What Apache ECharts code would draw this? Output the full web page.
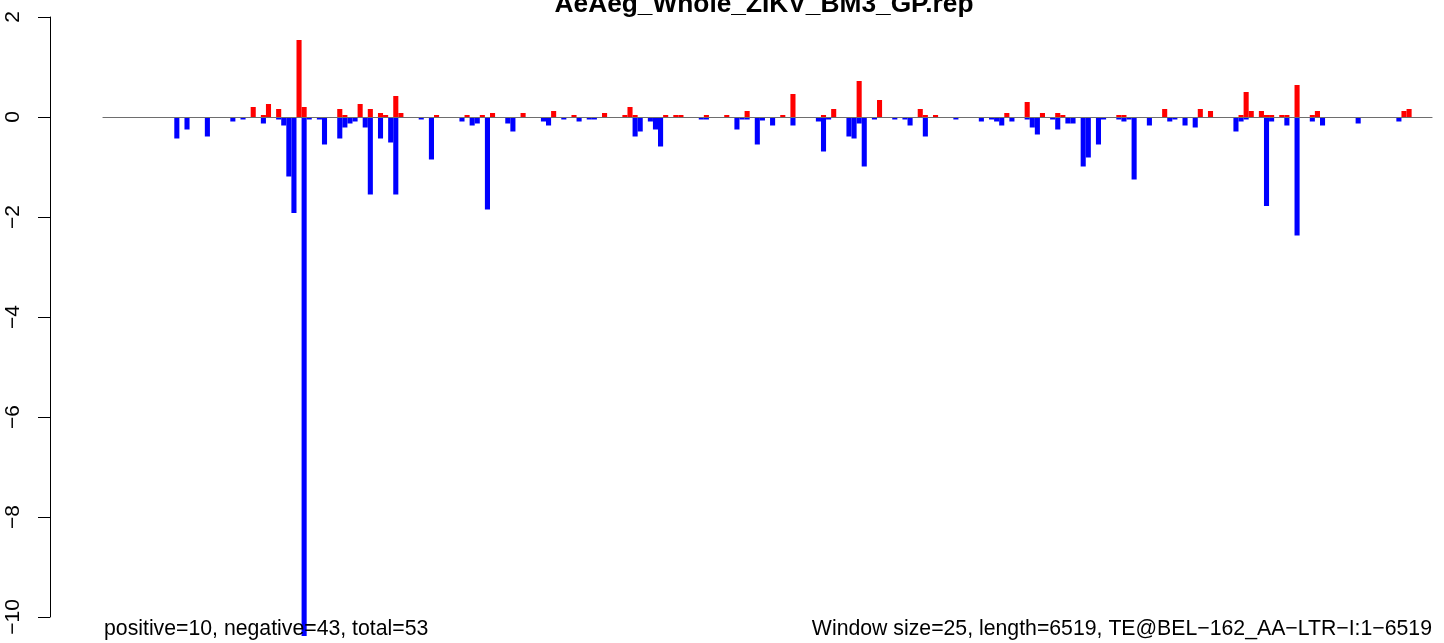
<!DOCTYPE html>
<html>
<head>
<meta charset="utf-8">
<script src="https://cdn.jsdelivr.net/npm/echarts@6/dist/echarts.min.js"></script>
<style>
html,body{margin:0;padding:0;background:#fff;}
#chart{width:1444px;height:643px;}
</style>
</head>
<body>
<div id="chart"></div>
<script>
// Window count: length 6519 / window size 25
const windowCount = 261;
const titleText = 'AeAeg_Whole_ZIKV_BM3_GP.rep';
const leftNote = 'positive=10, negative=43, total=53';
const rightNote = 'Window size=25, length=6519, TE@BEL\u2212162_AA\u2212LTR\u2212I:1\u22126519';
const yTicks = [-10, -8, -6, -4, -2, 0, 2];

// Positive (red) windows and values
const redWindows = [29,31,32,34,38,39,46,47,50,52,54,55,57,58,65,71,74,76,82,88,92,98,102,103,104,110,112,113,118,122,126,133,135,141,143,148,152,160,161,163,177,181,184,187,188,199,200,208,215,217,223,224,225,227,228,229,231,232,234,237,238,255,256];
const redValues  = [0.20,0.04,0.26,0.16,1.54,0.20,0.16,0.04,0.26,0.16,0.08,0.04,0.42,0.08,0.04,0.04,0.04,0.08,0.08,0.12,0.04,0.08,0.04,0.20,0.04,0.04,0.04,0.04,0.04,0.04,0.12,0.04,0.46,0.04,0.16,0.72,0.34,0.16,0.04,0.04,0.08,0.30,0.08,0.08,0.04,0.04,0.04,0.16,0.16,0.12,0.04,0.50,0.12,0.12,0.04,0.04,0.04,0.04,0.64,0.04,0.12,0.12,0.16];

// Negative (blue) windows and values
const blueWindows = [14,16,20,25,27,31,34,35,36,37,39,40,42,43,46,47,48,49,51,52,54,56,57,62,64,70,72,73,75,79,80,86,87,90,93,95,96,104,105,107,108,109,117,118,124,125,126,128,129,131,135,140,141,142,146,147,148,149,151,155,157,158,161,167,172,174,175,176,178,181,182,183,186,187,189,190,192,193,195,196,199,200,201,202,205,209,210,212,214,222,223,224,228,229,232,234,237,239,246,254];
const blueValues  = [-0.43,-0.25,-0.39,-0.09,-0.05,-0.13,-0.05,-0.17,-1.19,-1.92,-10.38,-0.05,-0.05,-0.55,-0.43,-0.21,-0.13,-0.09,-0.21,-1.55,-0.43,-0.51,-1.55,-0.05,-0.85,-0.09,-0.17,-0.13,-1.85,-0.13,-0.29,-0.09,-0.17,-0.05,-0.09,-0.05,-0.05,-0.39,-0.29,-0.09,-0.25,-0.59,-0.05,-0.05,-0.25,-0.05,-0.05,-0.55,-0.07,-0.17,-0.17,-0.09,-0.69,-0.05,-0.39,-0.43,-0.13,-0.99,-0.05,-0.05,-0.05,-0.17,-0.39,-0.05,-0.09,-0.05,-0.09,-0.17,-0.09,-0.05,-0.21,-0.35,-0.05,-0.25,-0.13,-0.13,-0.99,-0.81,-0.55,-0.05,-0.05,-0.09,-0.05,-1.25,-0.17,-0.09,-0.05,-0.17,-0.21,-0.29,-0.09,-0.05,-1.78,-0.09,-0.17,-2.37,-0.09,-0.17,-0.13,-0.09];

const categories = Array.from({length: windowCount}, (_, i) => String(i));
const redData = new Array(windowCount).fill(0);
const blueData = new Array(windowCount).fill(0);
redWindows.forEach((w, k) => { redData[w] = redValues[k]; });
blueWindows.forEach((w, k) => { blueData[w] = blueValues[k]; });

const chart = echarts.init(document.getElementById('chart'), null, {renderer: 'canvas'});
const FONT = '"Liberation Sans", Arial, Helvetica, sans-serif';
chart.setOption({
  animation: false,
  backgroundColor: '#ffffff',
  grid: {left: 103, right: 12, top: 17, bottom: 26, containLabel: false},
  xAxis: {
    type: 'category',
    data: categories,
    z: 5,
    axisLine: {show: true, onZero: true, lineStyle: {color: '#6e6e6e', width: 1.2}},
    axisTick: {show: false},
    axisLabel: {show: false},
    splitLine: {show: false}
  },
  yAxis: {
    type: 'value',
    min: -10, max: 2, interval: 2,
    offset: 53,
    axisLine: {show: true, lineStyle: {color: '#000', width: 1}},
    axisTick: {show: true, length: 12, lineStyle: {color: '#000', width: 1}},
    axisLabel: {
      rotate: 90, margin: 26, fontSize: 21, color: '#000', fontFamily: FONT,
      formatter: v => String(v).replace('-', '\u2212')
    },
    splitLine: {show: false}
  },
  series: [
    {type: 'bar', name: 'positive', data: redData, clip: false,
     itemStyle: {color: '#ff0000'}, barCategoryGap: '0%', barGap: '-100%'},
    {type: 'bar', name: 'negative', data: blueData, clip: false,
     itemStyle: {color: '#0000ff'}, barCategoryGap: '0%', barGap: '-100%'}
  ],
  graphic: [
    {type: 'text', x: 764, y: 4.7, z: 10,
     style: {text: titleText, font: 'bold 26.3px ' + FONT, fill: '#000', align: 'center', verticalAlign: 'middle'}},
    {type: 'text', x: 104, y: 629.5, z: 10,
     style: {text: leftNote, font: '21.25px ' + FONT, fill: '#000', align: 'left', verticalAlign: 'middle'}},
    {type: 'text', x: 1432, y: 629.5, z: 10,
     style: {text: rightNote, font: '21.25px ' + FONT, fill: '#000', align: 'right', verticalAlign: 'middle'}}
  ]
});
</script>
</body>
</html>
